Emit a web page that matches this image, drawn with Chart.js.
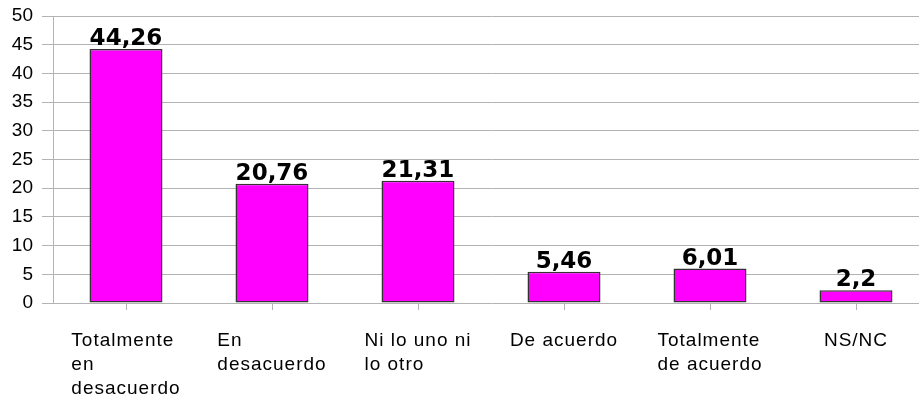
<!DOCTYPE html>
<html>
<head>
<meta charset="utf-8">
<script src="https://cdn.jsdelivr.net/npm/chart.js@4"></script>
<style>
  html, body { margin: 0; padding: 0; background: #fff; overflow: hidden; }
  #wrap { width: 919px; height: 405px; overflow: hidden; }
</style>
</head>
<body>
<div id="wrap"><canvas id="chart" width="940" height="405"></canvas></div>
<script>
  // Chart data
  const categories = [
    ['Totalmente', 'en', 'desacuerdo'],
    ['En', 'desacuerdo'],
    ['Ni lo uno ni', 'lo otro'],
    ['De acuerdo'],
    ['Totalmente', 'de acuerdo'],
    ['NS/NC']
  ];
  const values = [44.26, 20.76, 21.31, 5.46, 6.01, 2.2];
  const yTicks = [0, 5, 10, 15, 20, 25, 30, 35, 40, 45, 50];

  // Draw the value above each bar
  const valueLabels = {
    id: 'valueLabels',
    afterDatasetsDraw(chart) {
      const ctx = chart.ctx;
      const meta = chart.getDatasetMeta(0);
      ctx.save();
      ctx.font = 'bold 23px "DejaVu Sans"';
      ctx.fillStyle = '#000';
      ctx.textAlign = 'center';
      ctx.textBaseline = 'alphabetic';
      meta.data.forEach((bar, i) => {
        const text = String(values[i]).replace('.', ',');
        ctx.fillText(text, bar.x, bar.y - 4);
      });
      ctx.restore();
    }
  };

  // Category labels: block centred under the tick, lines aligned left
  const categoryLabels = {
    id: 'categoryLabels',
    afterDraw(chart) {
      const ctx = chart.ctx;
      const xScale = chart.scales.x;
      ctx.save();
      ctx.font = '19px "Liberation Sans", Arial, sans-serif';
      ctx.letterSpacing = '1px';
      ctx.fillStyle = '#000';
      ctx.textAlign = 'left';
      ctx.textBaseline = 'alphabetic';
      categories.forEach((lines, i) => {
        const cx = xScale.getPixelForValue(i);
        const w = Math.max(...lines.map(l => ctx.measureText(l).width));
        const left = cx - w / 2;
        lines.forEach((line, j) => {
          ctx.fillText(line, left, chart.chartArea.bottom + 43 + j * 24);
        });
      });
      ctx.restore();
    }
  };

  const ctx = document.getElementById('chart').getContext('2d');
  window.barChart = new Chart(ctx, {
    type: 'bar',
    data: {
      labels: categories.map(c => c.join(' ')),
      datasets: [{
        data: values,
        backgroundColor: '#ff00ff',
        borderColor: '#333333',
        borderWidth: 1.5,
        borderSkipped: false,
        barPercentage: 0.5,
        categoryPercentage: 1
      }]
    },
    options: {
      responsive: false,
      animation: false,
      layout: { padding: { top: 16, right: 11, left: 0, bottom: 0 } },
      plugins: {
        legend: { display: false },
        tooltip: { enabled: false }
      },
      scales: {
        x: {
          offset: true,
          grid: {
            offset: false,
            drawOnChartArea: false,
            drawTicks: true,
            tickLength: 7,
            color: '#b3b3b3'
          },
          border: { display: false },
          ticks: { display: false },
          afterFit(scale) { scale.height = 102; }
        },
        y: {
          min: 0,
          max: 50,
          afterBuildTicks(scale) { scale.ticks = yTicks.map(v => ({ value: v })); },
          grid: {
            color: '#b3b3b3',
            tickLength: 11
          },
          border: { color: '#b3b3b3' },
          ticks: {
            color: '#000',
            font: { family: '"Liberation Sans", Arial, sans-serif', size: 19 },
            padding: 9
          },
          afterFit(scale) {
            scale.width = 53;
            scale.paddingTop = 0;
            scale.paddingBottom = 0;
          }
        }
      }
    },
    plugins: [valueLabels, categoryLabels]
  });
</script>
</body>
</html>
